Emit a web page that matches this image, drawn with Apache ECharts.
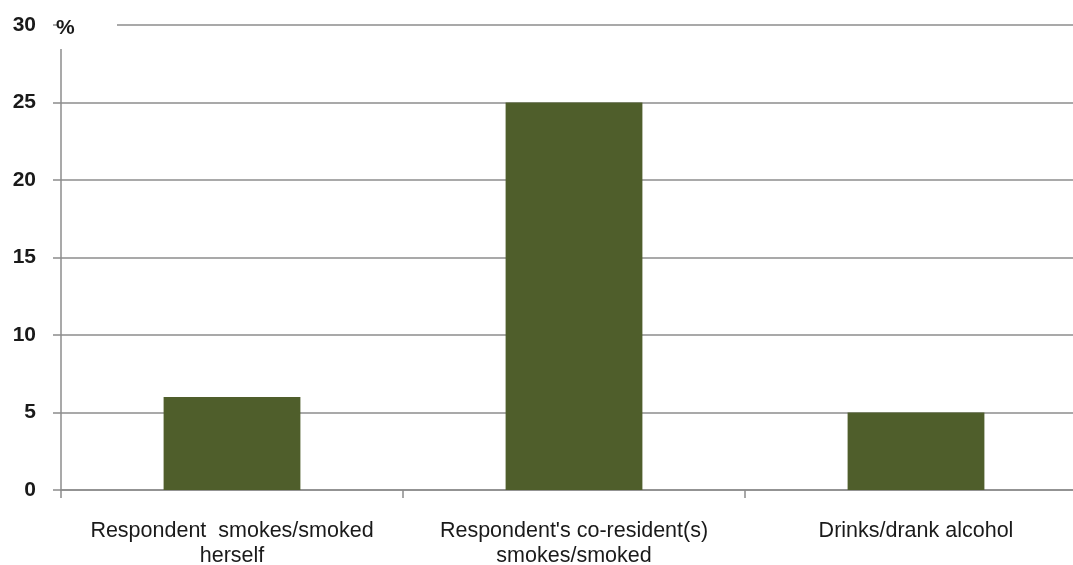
<!DOCTYPE html>
<html>
<head>
<meta charset="utf-8">
<script src="https://cdn.jsdelivr.net/npm/echarts@6/dist/echarts.min.js"></script>
<style>
html,body{margin:0;padding:0;background:#fff;}
#chart{width:1073px;height:565px;}
</style>
</head>
<body>
<div id="chart"></div>
<script>
var categories = ["Respondent  smokes/smoked\nherself", "Respondent's co-resident(s)\nsmokes/smoked", "Drinks/drank alcohol"];
var values = [6, 25, 5];
var yTicks = [0, 5, 10, 15, 20, 25, 30];
var unitLabel = '%';

var chart = echarts.init(document.getElementById('chart'), null, {renderer: 'canvas'});
chart.setOption({
  animation: false,
  backgroundColor: '#ffffff',
  grid: {left: 61, width: 1026, top: 25, bottom: 75, containLabel: false, outerBoundsMode: 'none'},
  graphic: [
    {type: 'rect', left: 58, top: 4, shape: {width: 59, height: 45}, style: {fill: '#ffffff'}, z: 100},
    {type: 'text', left: 56, top: 18, style: {text: unitLabel, font: 'bold 21px "Liberation Sans", Arial, sans-serif', fill: '#1a1a1a'}, z: 101}
  ],
  xAxis: {
    type: 'category',
    data: categories,
    axisLine: {show: true, lineStyle: {color: '#8c8c8c', width: 1.5}},
    axisTick: {show: true, length: 8, lineStyle: {color: '#8c8c8c', width: 1.5}},
    axisLabel: {
      interval: 0,
      margin: 29,
      fontFamily: 'Liberation Sans, Arial, sans-serif',
      fontSize: 21.5,
      color: '#1a1a1a',
      lineHeight: 25
    },
    splitLine: {show: false}
  },
  yAxis: {
    type: 'value',
    min: yTicks[0],
    max: yTicks[yTicks.length - 1],
    interval: 5,
    axisLine: {show: true, lineStyle: {color: '#8c8c8c', width: 1.5}},
    axisTick: {show: true, length: 8, lineStyle: {color: '#8c8c8c', width: 1.5}},
    axisLabel: {
      margin: 25,
      fontFamily: 'Liberation Sans, Arial, sans-serif',
      fontSize: 21,
      fontWeight: 'bold',
      color: '#1a1a1a'
    },
    splitLine: {show: true, lineStyle: {color: '#8c8c8c', width: 1.5}}
  },
  series: [{
    type: 'bar',
    data: values,
    barWidth: '40%',
    itemStyle: {color: '#4f5e2b'},
    z: 3
  }]
});
</script>
</body>
</html>
